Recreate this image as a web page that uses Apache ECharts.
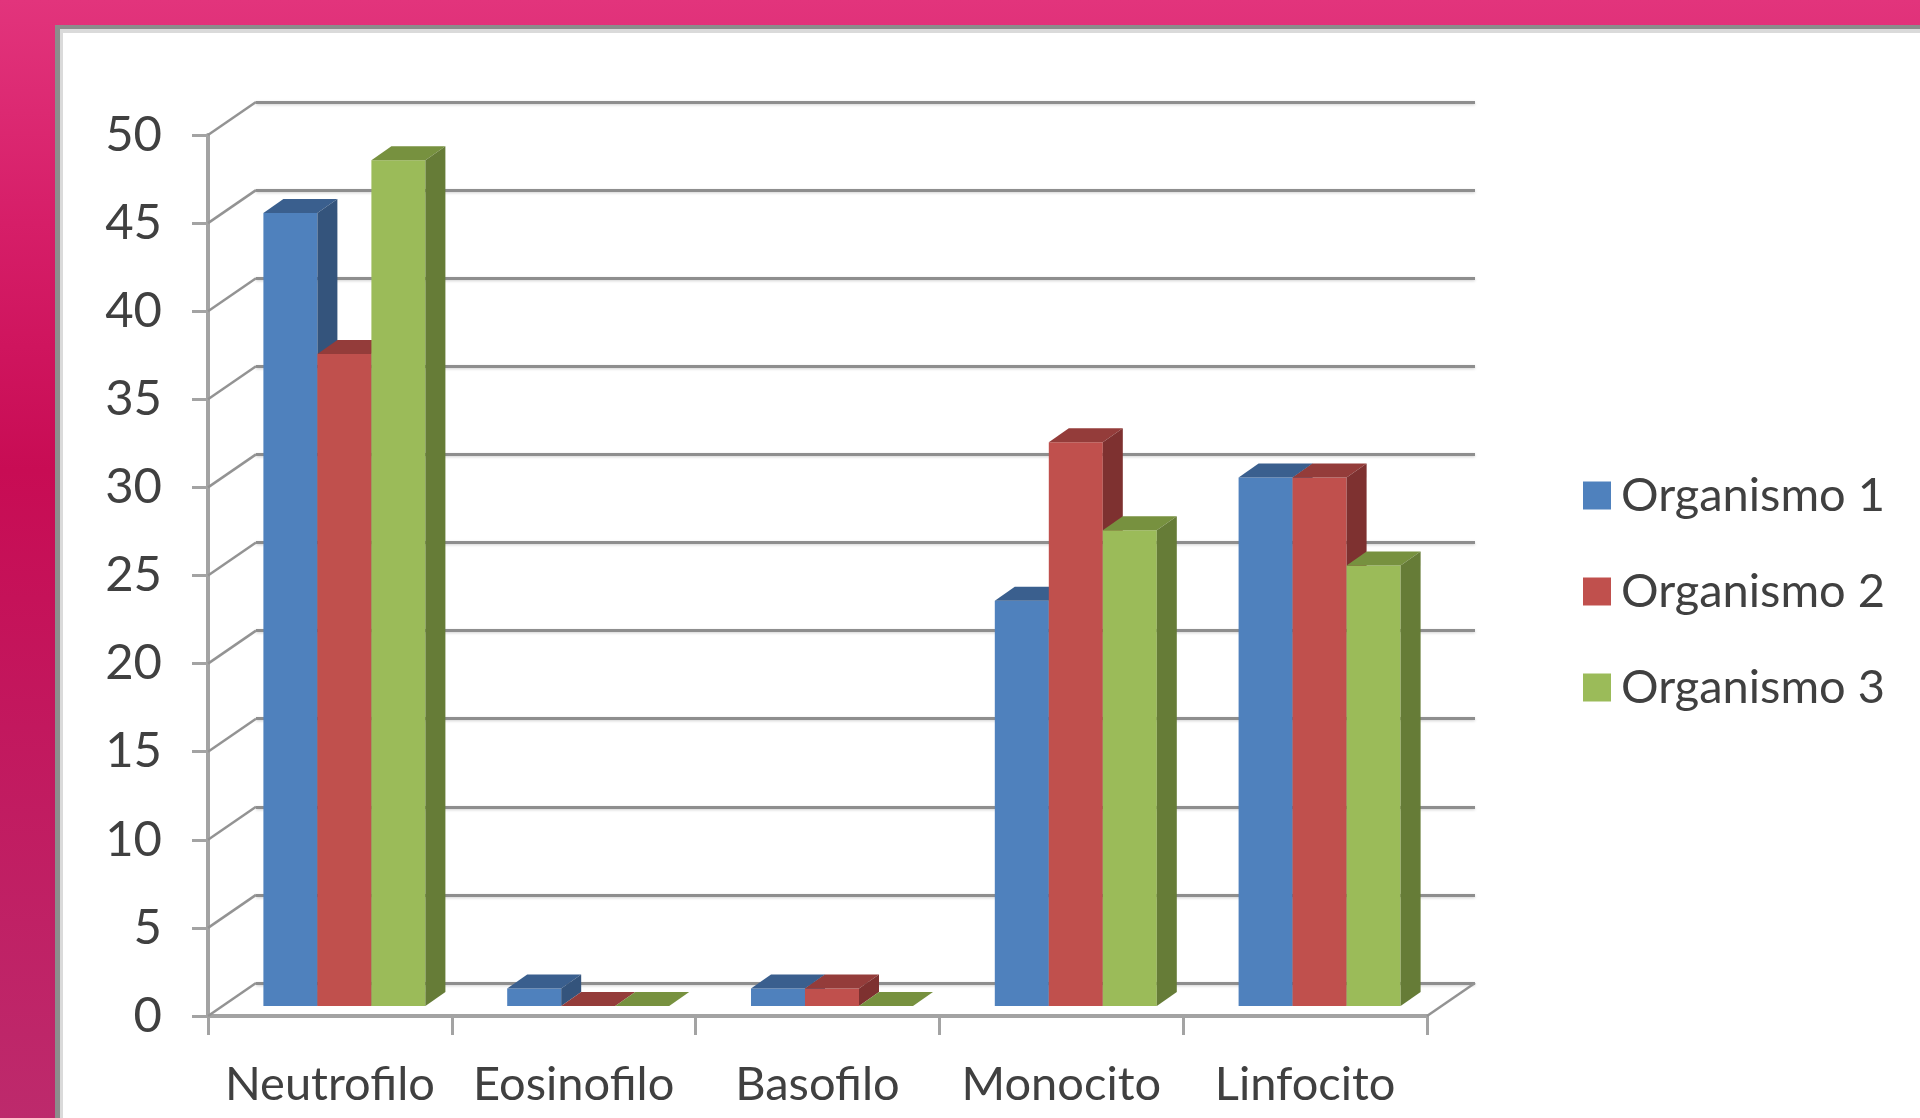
<!DOCTYPE html>
<html>
<head>
<meta charset="utf-8">
<script src="https://cdn.jsdelivr.net/npm/echarts@6/dist/echarts.min.js"></script>
<style>
html,body{margin:0;padding:0;background:#fff;}
#chart{width:1920px;height:1118px;}
</style>
</head>
<body>
<div id="chart"></div>
<script>
// ---- data ----
const categories = ['Neutrofilo', 'Eosinofilo', 'Basofilo', 'Monocito', 'Linfocito'];
const organismo1 = [45, 1, 1, 23, 30];
const organismo2 = [37, 0, 1, 32, 30];
const organismo3 = [48, 0, 0, 27, 25];
const seriesNames = ['Organismo 1', 'Organismo 2', 'Organismo 3'];
const yTicks = [0, 5, 10, 15, 20, 25, 30, 35, 40, 45, 50];

// ---- styling / geometry ----
const FONT = 'Lato';
const TEXT = '#404040';
const DX = 48, DY = 33;        // depth of the 3D box
const FX = 14.5, FY = 10;      // bar front plane offset
const BDX = 20, BDY = 14;      // bar depth
const palettes = [
  {front: '#4f81bd', top: '#3a5f8e', side: '#34547c'},
  {front: '#c0504d', top: '#943c3a', side: '#7e3130'},
  {front: '#9bbb59', top: '#77913f', side: '#667c37'}
];
const G = {left: 208, right: 493, top: 135, bottom: 102};

function barRenderer(sIdx) {
  const pal = palettes[sIdx];
  return function (params, api) {
    const i = api.value(0), v = api.value(1);
    const top = api.coord([i, v]);
    const base = api.coord([i, 0]);
    const catW = api.size([1, 0])[0];
    const bw = catW * 0.2215;
    const groupW = bw * 3;
    const x0 = top[0] - groupW / 2 + sIdx * bw + FX;
    const x1 = x0 + bw;
    const yT = top[1] - FY, yB = base[1] - FY;
    return {
      type: 'group',
      children: [
        {type: 'rect', shape: {x: x0, y: yT, width: bw, height: Math.max(0, yB - yT)},
         style: {fill: pal.front}},
        {type: 'polygon', shape: {points: [[x0, yT], [x1, yT], [x1 + BDX, yT - BDY], [x0 + BDX, yT - BDY]]},
         style: {fill: pal.top}},
        {type: 'polygon', shape: {points: [[x1, yT], [x1 + BDX, yT - BDY], [x1 + BDX, yB - BDY], [x1, yB]]},
         style: {fill: pal.side}}
      ]
    };
  };
}

function diagRenderer(params, api) {
  const v = api.value(0);
  const cs = params.coordSys;
  const p = api.coord([0, v]);
  const y = p[1];
  const children = [
    {type: 'line', shape: {x1: cs.x, y1: y, x2: cs.x + DX, y2: y - DY},
     style: {stroke: '#939393', lineWidth: 2.5}}
  ];
  if (v === 0) {
    children.push({type: 'line',
      shape: {x1: cs.x + cs.width, y1: y, x2: cs.x + cs.width + DX, y2: y - DY},
      style: {stroke: '#939393', lineWidth: 2.5}});
  }
  return {type: 'group', children: children};
}

const chart = echarts.init(document.getElementById('chart'), null, {renderer: 'canvas'});

const series = [
  {
    type: 'custom', name: 'diag', xAxisIndex: 0, yAxisIndex: 0, z: 1,
    data: yTicks.map(v => [v]), renderItem: diagRenderer, silent: true,
    encode: {y: 0}
  }
];
[organismo1, organismo2, organismo3].forEach((vals, s) => {
  series.push({
    type: 'custom', name: seriesNames[s], xAxisIndex: 0, yAxisIndex: 0, z: 3 + s,
    itemStyle: {color: palettes[s].front},
    data: vals.map((v, i) => [i, v]),
    encode: {x: 0, y: 1},
    renderItem: barRenderer(s)
  });
});

const option = {
  animation: false,
  graphic: [
    {type: 'rect', z: -30, shape: {x: 0, y: 0, width: 1920, height: 1118},
     style: {fill: {type: 'linear', x: 0, y: 0, x2: 0, y2: 1, colorStops: [
       {offset: 0, color: '#e2347c'}, {offset: 0.2, color: '#d61e68'},
       {offset: 0.42, color: '#c80c54'}, {offset: 0.65, color: '#c2185e'},
       {offset: 1, color: '#bd2a6c'}]}}},
    {type: 'rect', z: -29, shape: {x: 55, y: 25, width: 1900, height: 1100}, style: {fill: '#8c8c8c'}},
    {type: 'rect', z: -28, shape: {x: 60, y: 29, width: 1900, height: 1100}, style: {fill: '#dadada'}},
    {type: 'rect', z: -27, shape: {x: 63, y: 33, width: 1900, height: 1100}, style: {fill: '#ffffff'}}
  ],
  legend: {
    orient: 'vertical', left: 1578, top: 467,
    data: seriesNames, icon: 'rect', itemWidth: 28, itemHeight: 28, itemGap: 49,
    textStyle: {fontFamily: FONT, fontSize: 47, color: TEXT, padding: [0, 0, 0, 5]}
  },
  grid: [
    {left: G.left, right: G.right, top: G.top, bottom: G.bottom},
    {left: G.left + DX, right: G.right - DX, top: G.top - DY, bottom: G.bottom + DY}
  ],
  xAxis: [
    {type: 'category', gridIndex: 0, data: categories,
     axisLine: {lineStyle: {color: '#a3a3a3', width: 4}},
     axisTick: {show: true, interval: 0, length: 19, lineStyle: {color: '#a3a3a3', width: 3}},
     axisLabel: {interval: 0, fontFamily: FONT, fontSize: 47, color: TEXT, margin: 45},
     splitLine: {show: false}},
    {type: 'category', gridIndex: 1, data: categories, show: false}
  ],
  yAxis: [
    {type: 'value', gridIndex: 0, min: 0, max: 50, interval: 5,
     axisLine: {show: true, lineStyle: {color: '#a3a3a3', width: 4}},
     axisTick: {show: true, length: 16, lineStyle: {color: '#a3a3a3', width: 3}},
     axisLabel: {fontFamily: FONT, fontSize: 49, color: TEXT, margin: 46},
     splitLine: {show: false}},
    {type: 'value', gridIndex: 1, min: 0, max: 50, interval: 5,
     axisLine: {show: false}, axisTick: {show: false}, axisLabel: {show: false},
     splitLine: {show: true, lineStyle: {color: '#8e8e8e', width: 3,
       shadowColor: 'rgba(0,0,0,0.18)', shadowBlur: 3, shadowOffsetY: 1}}}
  ],
  series: series
};
chart.setOption(option);
</script>
</body>
</html>
